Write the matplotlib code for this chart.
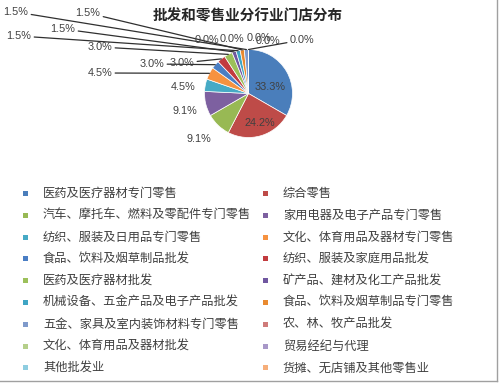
import numpy as np
import matplotlib
matplotlib.use("Agg")
import matplotlib.pyplot as plt
from matplotlib.patches import Rectangle
from matplotlib.lines import Line2D

# ============================================================
# DATA
# ============================================================
title = "批发和零售业分行业门店分布"

categories = [
    "医药及医疗器材专门零售", "综合零售",
    "汽车、摩托车、燃料及零配件专门零售", "家用电器及电子产品专门零售",
    "纺织、服装及日用品专门零售", "文化、体育用品及器材专门零售",
    "食品、饮料及烟草制品批发", "纺织、服装及家庭用品批发",
    "医药及医疗器材批发", "矿产品、建材及化工产品批发",
    "机械设备、五金产品及电子产品批发", "食品、饮料及烟草制品专门零售",
    "五金、家具及室内装饰材料专门零售", "农、林、牧产品批发",
    "文化、体育用品及器材批发", "贸易经纪与代理",
    "其他批发业", "货摊、无店铺及其他零售业",
]
# store counts (shares read as 33.3%, 24.2%, 9.1% ... of 66)
values = [22, 16, 6, 6, 3, 3, 2, 2, 2, 1, 1, 1, 1, 0, 0, 0, 0, 0]

colors = [
    "#4A7EBB", "#BE4B48", "#98B954", "#7D60A0", "#46AAC5", "#F69240",
    "#4A7EC4", "#C23B3F", "#9CC05A", "#7057A0", "#3FA5C4", "#E98A2F",
    "#7F9ACB", "#CF7B7A", "#B5CF8A", "#A898C8", "#8ECDE0", "#F6AE7A",
]

# ============================================================
# LAYOUT (image pixels, y down)
# ============================================================
W, H = 500, 386
cx, cy, r = 248.5, 93.5, 44
label_pos = [
    (270, 87), (260, 123), (199, 139), (185, 111), (183, 87), (100, 73),
    (152, 64), (182, 63), (100, 47), (63, 29), (19, 36), (88, 13), (16, 12),
    (207, 40), (232, 39), (259, 38), (268, 41), (302, 40),
]
legend_y0, legend_dy = 193.5, 21.8
legend_cols = [(25.5, 43), (265.5, 283)]

cjk = ["Noto Sans CJK SC", "DejaVu Sans"]
num_font = ["Liberation Sans", "DejaVu Sans"]

fig = plt.figure(figsize=(W / 100, H / 100), dpi=100)
ax = fig.add_axes([0, 0, 1, 1])

# pie: y axis inverted, so counterclock in data = clockwise on screen
wedges, _ = ax.pie(values, colors=colors, center=(cx, cy), radius=r,
                   startangle=-90, counterclock=True, frame=True,
                   wedgeprops=dict(edgecolor="white", linewidth=0.5))
ax.set_xlim(0, W)
ax.set_ylim(H, 0)
ax.set_aspect("auto")
ax.axis("off")

total = sum(values)
cum = np.cumsum([0] + values[:-1])
for i, v in enumerate(values):
    ang = 2 * np.pi * (cum[i] + v / 2) / total
    ex, ey = cx + r * np.sin(ang), cy - r * np.cos(ang)
    lx, ly = label_pos[i]
    txt = f"{v / total * 100:.1f}%"
    far = np.hypot(lx - cx, ly - cy) > 1.55 * r
    if far:
        ax.annotate(txt, xy=(ex, ey), xytext=(lx, ly), ha="center", va="center",
                    fontsize=7.8, family=num_font, color="#404040",
                    arrowprops=dict(arrowstyle="-", color="#303030", lw=0.9,
                                    shrinkA=0, shrinkB=0))
    else:
        ax.text(lx, ly, txt, ha="center", va="center", fontsize=7.8,
                family=num_font, color="#404040")

ax.text(248, 16, title, ha="center", va="center", fontsize=10.5,
        fontweight="bold", family=cjk, color="#262626")

# legend, row-major in two columns
for i, name in enumerate(categories):
    mx, tx = legend_cols[i % 2]
    y = legend_y0 + legend_dy * (i // 2)
    ax.add_patch(Rectangle((mx - 2.5, y - 2.5), 5, 5, facecolor=colors[i],
                           edgecolor="none"))
    ax.text(tx, y, name, ha="left", va="center", fontsize=8.8, family=cjk,
            color="#404040")

# chart border (right and bottom visible)
ax.add_line(Line2D([496.5, 496.5], [0, 380.5], color="#A0A0A0", lw=1))
ax.add_line(Line2D([0, 496.5], [380.5, 380.5], color="#A0A0A0", lw=1))

fig.savefig("out.png", dpi=100)
